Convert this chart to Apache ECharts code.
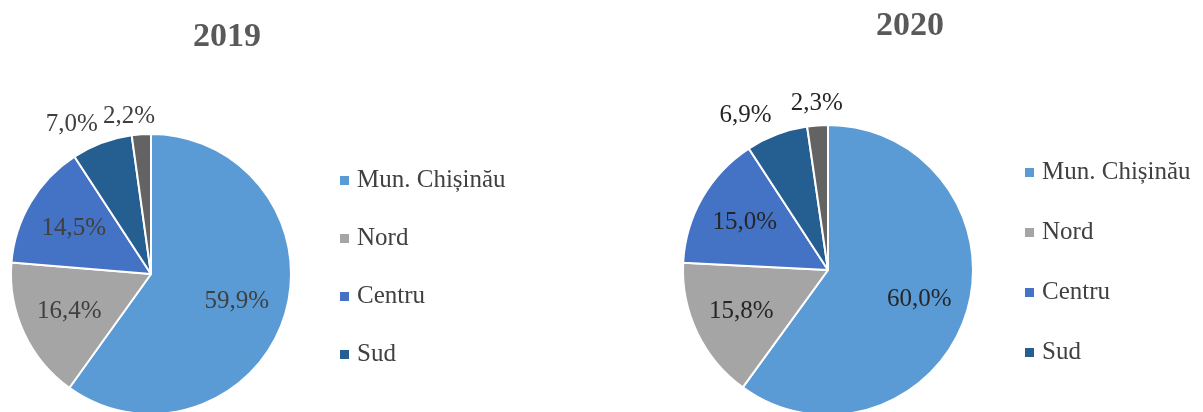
<!DOCTYPE html>
<html>
<head>
<meta charset="utf-8">
<script src="https://cdn.jsdelivr.net/npm/echarts@6/dist/echarts.min.js"></script>
<style>
html,body{margin:0;padding:0;background:#fff;}
#c{width:1203px;height:412px;}
</style>
</head>
<body>
<div id="c"></div>
<script>
const categories = ['Mun. Chișinău', 'Nord', 'Centru', 'Sud', 'UTA Găgăuzia'];
const legendNames = ['Mun. Chișinău', 'Nord', 'Centru', 'Sud'];
const values2019 = [59.9, 16.4, 14.5, 7.0, 2.2];
const values2020 = [60.0, 15.8, 15.0, 6.9, 2.3];
const years = ['2019', '2020'];

const colors = ['#5B9BD5', '#A5A5A5', '#4472C4', '#255E91', '#636363'];
const FONT = '"Liberation Serif", "Times New Roman", serif';
const fmt = p => p.value.toFixed(1).replace('.', ',') + '%';

// style config per pie (positions/sizes only)
const pies = [
  { values: values2019, center: [151, 274], r: 140, labelR: 174, textColor: '#404040',
    outer: [{ len: 20, len2: -8 }, { len: 18, len2: -20 }] },
  { values: values2020, center: [828, 270], r: 145, labelR: 186, textColor: '#262626',
    outer: [{ len: 20, len2: -7 }, { len: 22, len2: -32 }] }
];

const series = [];
pies.forEach(p => {
  // visible pie with outside labels for small slices
  series.push({
    type: 'pie', center: p.center, radius: [0, p.r], startAngle: 90, clockwise: true,
    avoidLabelOverlap: false, silent: true, emphasis: { disabled: true },
    itemStyle: { borderColor: '#ffffff', borderWidth: 2 },
    label: { show: false },
    labelLine: { show: false },
    data: categories.map((name, i) => {
      const item = { name, value: p.values[i], itemStyle: { color: colors[i] } };
      if (i >= 3) {
        const o = p.outer[i - 3];
        item.label = { show: true, position: 'outside', formatter: fmt,
          fontFamily: FONT, fontSize: 25, color: p.textColor };
        item.labelLine = { show: false, length: o.len, length2: o.len2 };
      }
      return item;
    })
  });
  // transparent pie used only to place the inside labels
  series.push({
    type: 'pie', center: p.center, radius: [0, p.labelR], startAngle: 90, clockwise: true,
    avoidLabelOverlap: false, silent: true, emphasis: { disabled: true }, z: 5,
    itemStyle: { color: 'rgba(0,0,0,0)', borderWidth: 0 },
    labelLine: { show: false },
    label: { show: true, position: 'inside', formatter: fmt,
      fontFamily: FONT, fontSize: 25, color: p.textColor },
    data: categories.map((name, i) => ({
      name, value: p.values[i],
      label: { show: i < 3 }
    }))
  });
});

const legendBase = {
  orient: 'vertical', icon: 'path://M0,0h9v9h-9z', itemWidth: 15, itemHeight: 9,
  selectedMode: false, data: legendNames,
  itemStyle: { borderWidth: 0 },
  textStyle: { fontFamily: FONT, fontSize: 25, lineHeight: 25, color: '#404040' }
};

const chart = echarts.init(document.getElementById('c'), null, { renderer: 'canvas' });
chart.setOption({
  animation: false,
  backgroundColor: '#ffffff',
  title: [
    { text: years[0], left: 222, top: 15, textAlign: 'center',
      textStyle: { fontFamily: FONT, fontSize: 34, fontWeight: 'bold', color: '#595959' } },
    { text: years[1], left: 905, top: 4, textAlign: 'center',
      textStyle: { fontFamily: FONT, fontSize: 34, fontWeight: 'bold', color: '#595959' } }
  ],
  legend: [
    Object.assign({}, legendBase, { left: 335, top: 163, itemGap: 33 }),
    Object.assign({}, legendBase, { left: 1020, top: 155, itemGap: 35 })
  ],
  series
});
</script>
</body>
</html>
